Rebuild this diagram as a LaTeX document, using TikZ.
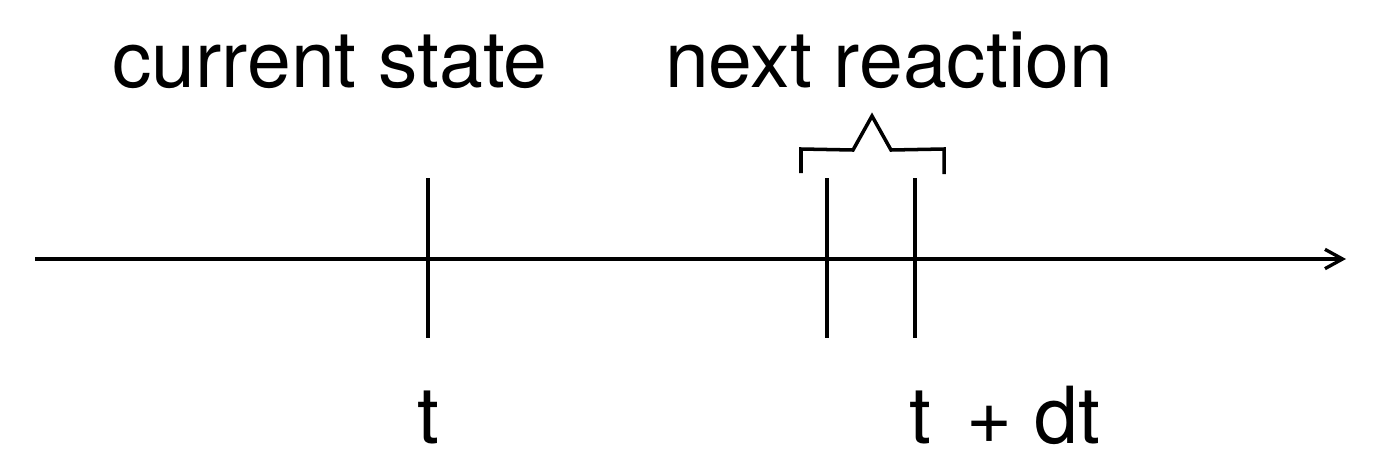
\documentclass[tikz,border=0pt]{standalone}
\usepackage{fontspec}
\setmainfont{TeX Gyre Heros}
\usetikzlibrary{arrows.meta,positioning}

\tikzset{
  lbl/.style={inner sep=0pt,anchor=base,font=\fontsize{44.8}{50}\selectfont},
  mark line/.style={line width=2pt},
}

\begin{document}
\begin{tikzpicture}[x=0.02cm,y=-0.02cm]
  \useasboundingbox (0,0) rectangle (1384,474);
  % time axis
  \coordinate (axstart) at (35,259);
  \coordinate (axend) at (1346,259);
  \draw[line width=1.9pt,-{Straight Barb[length=10pt,width=11pt]}] (axstart) -- (axend);
  % ticks
  \coordinate (tA) at (428,178);  \coordinate (tAb) at (428,338);
  \coordinate (tB) at (827,178);  \coordinate (tBb) at (827,338);
  \coordinate (tC) at (915,178);  \coordinate (tCb) at (915,338);
  \draw[mark line] (tA) -- (tAb);
  \draw[mark line] (tB) -- (tBb);
  \draw[mark line] (tC) -- (tCb);
  % bracket over the reaction interval
  \draw[mark line,line join=miter] (801,173) -- (801,149) -- (853,150) -- (872,116)
    -- (891,150) -- (944,149) -- (944,174);
  % labels
  \node[lbl] (cur) at (330,87) {current state};
  \node[lbl] (nxt) at (889,87) {next reaction};
  \node[lbl] (lt) at (428,443) {t};
  \node[lbl] (ltdt) at (1005,443) {t \,+ dt};
\end{tikzpicture}
\end{document}
